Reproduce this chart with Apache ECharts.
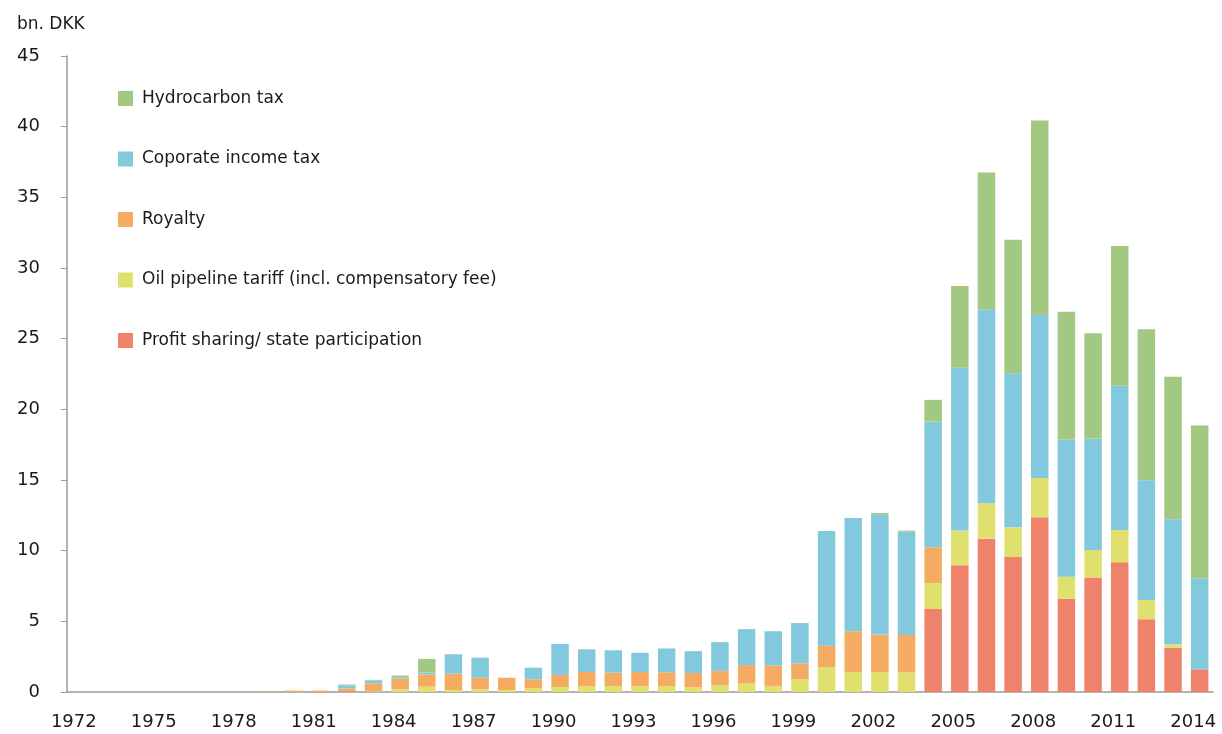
<!DOCTYPE html>
<html lang="en">
<head>
    <meta charset="UTF-8">
    <title>State revenue from oil and gas - bn. DKK</title>
    <script src="https://cdn.jsdelivr.net/npm/echarts@6/dist/echarts.min.js"></script>
    <style>
        * {
            margin: 0;
            padding: 0;
            box-sizing: border-box;
        }

        body {
            background: #ffffff;
        }

        #chart {
            width: 1222px;
            height: 734px;
        }
    </style>
</head>
<body>
    <div id="chart"></div>

    <script>
        // years 1972 - 2014
        const years = [];
        for (let y = 1972; y <= 2014; y++) years.push(String(y));

        // bn. DKK
        const profitSharing = [
            0, 0, 0, 0, 0, 0, 0, 0, 0, 0,
            0.05, 0, 0, 0, 0, 0, 0, 0, 0, 0,
            0, 0, 0, 0, 0, 0, 0, 0, 0, 0,
            0, 0, 5.87, 8.97, 10.85, 9.55, 12.36, 6.60, 8.11, 9.18,
            5.15, 3.13, 1.60
        ];
        const pipelineTariff = [
            0, 0, 0, 0, 0, 0, 0, 0, 0, 0,
            0, 0.05, 0.19, 0.38, 0.14, 0.19, 0.14, 0.26, 0.35, 0.42,
            0.42, 0.42, 0.42, 0.34, 0.50, 0.60, 0.43, 0.90, 1.77, 1.42,
            1.42, 1.38, 1.84, 2.45, 2.51, 2.10, 2.78, 1.55, 1.94, 2.29,
            1.36, 0.24, 0
        ];
        const royalty = [
            0, 0, 0, 0, 0, 0, 0.03, 0.03, 0.10, 0.10,
            0.20, 0.55, 0.75, 0.86, 1.16, 0.82, 0.87, 0.64, 0.86, 1.00,
            0.95, 1.00, 0.98, 1.00, 1.00, 1.30, 1.44, 1.13, 1.51, 2.88,
            2.64, 2.65, 2.53, 0, 0, 0, 0, 0, 0, 0,
            0, 0, 0
        ];
        const corporateTax = [
            0, 0, 0, 0, 0, 0, 0, 0, 0, 0,
            0.22, 0.21, 0.08, 0.14, 1.37, 1.42, 0, 0.82, 2.19, 1.60,
            1.58, 1.35, 1.68, 1.55, 2.03, 2.55, 2.43, 2.85, 8.11, 8.01,
            8.51, 7.32, 8.89, 11.53, 13.72, 10.90, 11.54, 9.71, 7.88, 10.19,
            8.48, 8.86, 6.45
        ];
        const hydrocarbonTax = [
            0, 0, 0, 0, 0, 0, 0, 0, 0, 0,
            0.06, 0.05, 0.14, 0.96, 0, 0, 0, 0, 0, 0,
            0, 0, 0, 0, 0, 0, 0, 0, 0, 0,
            0.10, 0.07, 1.54, 5.78, 9.67, 9.44, 13.75, 9.05, 7.46, 9.90,
            10.68, 10.08, 10.80
        ];

        const FONT = "'DejaVu Sans', sans-serif";
        const AXIS_GREY = '#9a9a9a';

        function barSeries(name, data, color) {
            return {
                name: name,
                type: 'bar',
                stack: 'total',
                barWidth: 17.5,
                data: data,
                itemStyle: { color: color },
                emphasis: { disabled: true }
            };
        }

        const chart = echarts.init(document.getElementById('chart'));
        chart.setOption({
            animation: false,
            textStyle: { fontFamily: FONT },
            title: {
                text: 'bn. DKK',
                left: 17,
                top: 16,
                padding: 0,
                textStyle: { fontFamily: FONT, fontSize: 17, fontWeight: 'normal', color: '#1a1a1a' }
            },
            legend: {
                orient: 'vertical',
                left: 113,
                top: 85,
                itemWidth: 15,
                itemHeight: 15,
                itemGap: 43.5,
                icon: 'rect',
                textStyle: { fontFamily: FONT, fontSize: 17, lineHeight: 17, color: '#1a1a1a', padding: [0, 0, 0, 4] },
                data: [
                    'Hydrocarbon tax',
                    'Coporate income tax',
                    'Royalty',
                    'Oil pipeline tariff (incl. compensatory fee)',
                    'Profit sharing/ state participation'
                ]
            },
            grid: {
                left: 67,
                right: 9,
                top: 56,
                bottom: 42
            },
            xAxis: {
                type: 'category',
                data: years,
                axisLine: { lineStyle: { color: AXIS_GREY, width: 1.5 } },
                axisTick: { show: false },
                axisLabel: {
                    interval: 2,
                    margin: 21,
                    fontSize: 18,
                    color: '#1a1a1a',
                    padding: [0, 13, 0, 0]
                }
            },
            yAxis: {
                type: 'value',
                min: 0,
                max: 45,
                interval: 5,
                splitLine: { show: false },
                axisLine: { show: true, lineStyle: { color: AXIS_GREY, width: 1.5 } },
                axisTick: { show: true, length: 6, lineStyle: { color: AXIS_GREY } },
                axisLabel: { margin: 27, fontSize: 18, color: '#1a1a1a' }
            },
            series: [
                barSeries('Profit sharing/ state participation', profitSharing, '#ef826a'),
                barSeries('Oil pipeline tariff (incl. compensatory fee)', pipelineTariff, '#dfe06d'),
                barSeries('Royalty', royalty, '#f5ab62'),
                barSeries('Coporate income tax', corporateTax, '#82c9de'),
                barSeries('Hydrocarbon tax', hydrocarbonTax, '#a2c882')
            ]
        });
    </script>
</body>
</html>
